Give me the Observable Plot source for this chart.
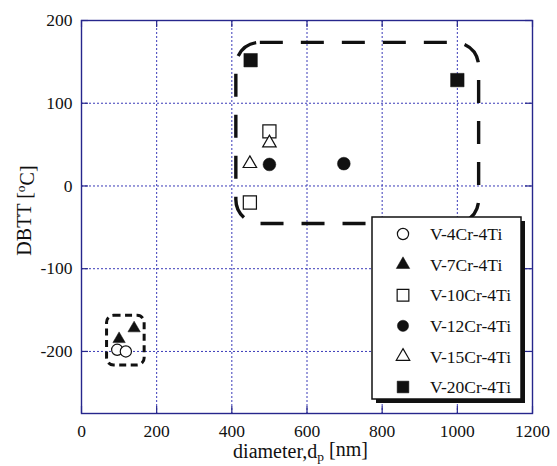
<!DOCTYPE html>
<html><head><meta charset="utf-8">
<script src="https://cdn.jsdelivr.net/npm/d3@7"></script>
<script src="https://cdn.jsdelivr.net/npm/@observablehq/plot@0.6"></script>
<style>
body{margin:0;background:#fff;}
#chart{position:relative;width:557px;height:466px;}
#chart svg text{font-family:'Liberation Serif','Times New Roman',serif !important;}
</style></head><body><div id="chart"></div>
<script>
// ---- data ----
const series = ["V-4Cr-4Ti","V-7Cr-4Ti","V-10Cr-4Ti","V-12Cr-4Ti","V-15Cr-4Ti","V-20Cr-4Ti"];
const symbols = ["circle","triangle","square","circle","triangle","square"];
const filled = [false,true,false,true,false,true];
const dotR = [5.6, 4.6, 7.4, 6.4, 5.0, 7.6];
const diameterNm = [[95,118],[100,140],[500,448],[500,698],[448,500],[450,1000]];
const dbttC = [[-198,-200],[-185,-172],[66,-20],[26,27],[27,52],[152,128]];
const xTicks = [0,200,400,600,800,1000,1200];
const yTicks = [-200,-100,0,100,200];
const xDomain = [0,1200];
const yDomain = [-275,200];
// grouping boxes (data units)
const boxX1 = [412, 68];
const boxX2 = [1058, 168];
const boxY1 = [173, -157];
const boxY2 = [-46, -217];

// ---- layout ----
const W=557,H=466,mL=81,mR=25,mT=20,mB=53;
const pW=W-mL-mR, pH=H-mT-mB;
const navy="#26268c", grid="#3a3ab8", ink="#111";
const font="'Liberation Serif','Times New Roman',serif";
const fs=17.5;

const table = series.flatMap((s,i)=>diameterNm[i].map((d,j)=>({series:s, d, t:dbttC[i][j]})));
const boxes = boxX1.map((x1,i)=>({x1, x2:boxX2[i], y1:boxY1[i], y2:boxY2[i]}));

const dotMarks = series.map((s,i)=>Plot.dot(table.filter(r=>r.series===s),{
  x:"d", y:"t", symbol:()=>symbols[i], r:dotR[i],
  fill: filled[i]?ink:"white", stroke: ink, strokeWidth: filled[i]?0.5:1.2
}));

const plot = Plot.plot({
  width:W, height:H, marginLeft:mL, marginRight:mR, marginTop:mT, marginBottom:mB,
  style:{fontFamily:font, fontSize:fs+"px", color:ink, background:"#fff"},
  symbol:{type:"identity"},
  x:{domain:xDomain, ticks:xTicks, tickSize:0, tickPadding:11, tickFormat:d=>String(d), label:null},
  y:{domain:yDomain, ticks:yTicks, tickSize:0, tickPadding:9, tickFormat:d=>String(d), label:null},
  marks:[
    Plot.ruleX(xTicks,{x:d=>d, stroke:grid, strokeWidth:1, strokeDasharray:"2,2"}),
    Plot.ruleY(yTicks,{y:d=>d, stroke:grid, strokeWidth:1, strokeDasharray:"2,2"}),
    Plot.ruleX(xTicks,{x:d=>d, stroke:navy, strokeWidth:1.2, insetTop:pH-7}),
    Plot.ruleX(xTicks,{x:d=>d, stroke:navy, strokeWidth:1.2, insetBottom:pH-7}),
    Plot.ruleY(yTicks,{y:d=>d, stroke:navy, strokeWidth:1.2, insetRight:pW-7}),
    Plot.ruleY(yTicks,{y:d=>d, stroke:navy, strokeWidth:1.2, insetLeft:pW-7}),
    Plot.frame({stroke:navy, strokeWidth:1.4}),
    Plot.rect([boxes[0]],{x1:"x1",x2:"x2",y1:"y1",y2:"y2", rx:24, fill:"none", stroke:ink, strokeWidth:3.4, strokeDasharray:"23,18"}),
    Plot.rect([boxes[1]],{x1:"x1",x2:"x2",y1:"y1",y2:"y2", rx:7, fill:"none", stroke:ink, strokeWidth:3, strokeDasharray:"7,4.5"}),
    ...dotMarks
  ]
});

const svg = d3.select(plot);
svg.selectAll("text").attr("fill", ink).style("font-size", fs+"px");
// axis titles
const yt = svg.append("text").attr("transform",`translate(31,${mT+pH/2-6}) rotate(-90)`)
  .attr("text-anchor","middle").attr("font-size",20).attr("fill",ink);
yt.append("tspan").text("DBTT [");
yt.append("tspan").attr("dy","-0.45em").attr("font-size",13.5).text("o");
yt.append("tspan").attr("dy","0.45em").text("C]");
const xt = svg.append("text").attr("x",mL+pW/2-6).attr("y",H-8)
  .attr("text-anchor","middle").attr("font-size",20).attr("fill",ink);
xt.append("tspan").text("diameter,d");
xt.append("tspan").attr("dy","0.25em").attr("font-size",13.5).text("p");
xt.append("tspan").attr("dy","-0.25em").text(" [nm]");

// legend
const lx=372, ly=217, lw=149, lh=182;
const lg = svg.append("g").attr("text-anchor","start");
lg.append("rect").attr("x",lx+4).attr("y",ly+4).attr("width",lw).attr("height",lh).attr("fill",ink);
lg.append("rect").attr("x",lx).attr("y",ly).attr("width",lw).attr("height",lh).attr("fill","#fff").attr("stroke",ink).attr("stroke-width",1.5);
const symMap={circle:d3.symbolCircle, triangle:d3.symbolTriangle, square:d3.symbolSquare};
series.forEach((s,i)=>{
  const cy = ly+17+i*30.6;
  const r = symbols[i]==="triangle"? 5.0 : symbols[i]==="square"? 6.6 : 5.6;
  lg.append("path").attr("transform",`translate(${lx+31},${cy})`)
    .attr("d", d3.symbol(symMap[symbols[i]], Math.PI*r*r)())
    .attr("fill", filled[i]?ink:"#fff").attr("stroke",ink).attr("stroke-width",filled[i]?0.5:1.2);
  lg.append("text").attr("x",lx+58).attr("y",cy).attr("dy","0.35em").attr("text-anchor","start")
    .attr("font-size",fs).attr("fill",ink).text(s);
});

document.getElementById("chart").appendChild(plot);
</script></body></html>
